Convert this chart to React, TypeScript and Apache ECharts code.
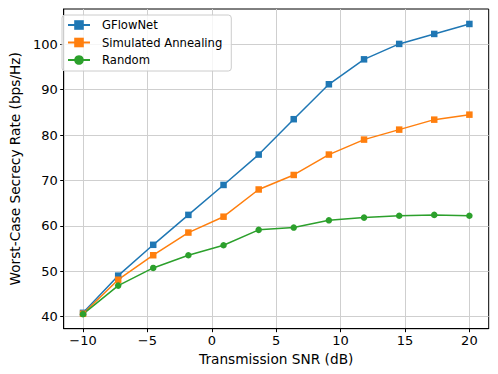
import React, { useEffect, useRef } from "react";
import * as echarts from "echarts";

const snr = [-10, -7.27, -4.55, -1.82, 0.91, 3.64, 6.36, 9.09, 11.82, 14.55, 17.27, 20];
const gflownet = [40.8, 49.0, 55.8, 62.4, 69.0, 75.7, 83.5, 91.2, 96.7, 100.1, 102.3, 104.5];
const annealing = [40.6, 48.1, 53.5, 58.5, 62.0, 68.0, 71.2, 75.7, 79.0, 81.2, 83.4, 84.5];
const random = [40.5, 46.8, 50.7, 53.5, 55.7, 59.1, 59.6, 61.2, 61.8, 62.2, 62.4, 62.2];
const xTicks = [-10, -5, 0, 5, 10, 15, 20];
const yTicks = [40, 50, 60, 70, 80, 90, 100];

const FONT = "DejaVu Sans";

function pairs(ys: number[]) {
  return snr.map((x, i) => [x, ys[i]]);
}

export default function App() {
  const ref = useRef<HTMLDivElement>(null);
  useEffect(() => {
    if (!ref.current) return;
    const chart = echarts.init(ref.current, undefined, { renderer: "svg" });
    const fmt = (v: number) => (v < 0 ? "\u2212" + Math.abs(v) : String(v));
    const mk = (name: string, data: number[], color: string, symbol: string) => ({
      name,
      type: "line",
      data: pairs(data),
      symbol,
      symbolSize: 6.5,
      showSymbol: true,
      lineStyle: { color, width: 1.5 },
      itemStyle: { color, borderWidth: 0 },
      emphasis: { disabled: true },
    });
    chart.setOption({
      animation: false,
      textStyle: { fontFamily: FONT },
      grid: {
        left: 56,
        right: 9.3,
        top: 9,
        bottom: 45.3,
        show: true,
        borderColor: "#000",
        borderWidth: 1,
        backgroundColor: "transparent",
      },
      legend: {
        orient: "vertical",
        left: 62,
        top: 15,
        padding: [4, 9, 5, 5],
        itemGap: 5.5,
        itemWidth: 22,
        itemHeight: 12,
        borderColor: "#cccccc",
        borderWidth: 1,
        borderRadius: 3,
        backgroundColor: "rgba(255,255,255,0.8)",
        textStyle: { fontFamily: FONT, fontSize: 11.6, color: "#000", padding: [0, 0, 0, 7] },
        data: ["GFlowNet", "Simulated Annealing", "Random"],
      },
      xAxis: {
        type: "value",
        min: -11.5,
        max: 21.5,
        name: "Transmission SNR (dB)",
        nameLocation: "middle",
        nameGap: 19,
        nameTextStyle: { fontFamily: FONT, fontSize: 13.7, color: "#000" },
        axisLine: { show: true, onZero: false, lineStyle: { color: "#000", width: 1 } },
        axisTick: { show: true, inside: false, length: 3.5, lineStyle: { color: "#000" }, customValues: xTicks },
        axisLabel: { fontFamily: FONT, fontSize: 13, color: "#000", margin: 5, formatter: fmt, customValues: xTicks },
        splitLine: { show: true, lineStyle: { color: "#cfcfcf", width: 1 } },
      },
      yAxis: {
        type: "value",
        min: 37.3,
        max: 107.8,
        name: "Worst-Case Secrecy Rate (bps/Hz)",
        nameLocation: "middle",
        nameGap: 31,
        nameRotate: 90,
        nameTextStyle: { fontFamily: FONT, fontSize: 13.7, color: "#000" },
        axisLine: { show: true, onZero: false, lineStyle: { color: "#000", width: 1 } },
        axisTick: { show: true, inside: false, length: 3.5, lineStyle: { color: "#000" }, customValues: yTicks },
        axisLabel: { fontFamily: FONT, fontSize: 13, color: "#000", margin: 6, formatter: fmt, customValues: yTicks },
        splitLine: { show: true, lineStyle: { color: "#cfcfcf", width: 1 } },
      },
      series: [
        mk("GFlowNet", gflownet, "#1f77b4", "rect"),
        mk("Simulated Annealing", annealing, "#ff7f0e", "rect"),
        mk("Random", random, "#2ca02c", "circle"),
      ],
    });
    return () => chart.dispose();
  }, []);
  return <div ref={ref} style={{ width: 498, height: 374, position: "absolute", left: 0, top: 0 }} />;
}
